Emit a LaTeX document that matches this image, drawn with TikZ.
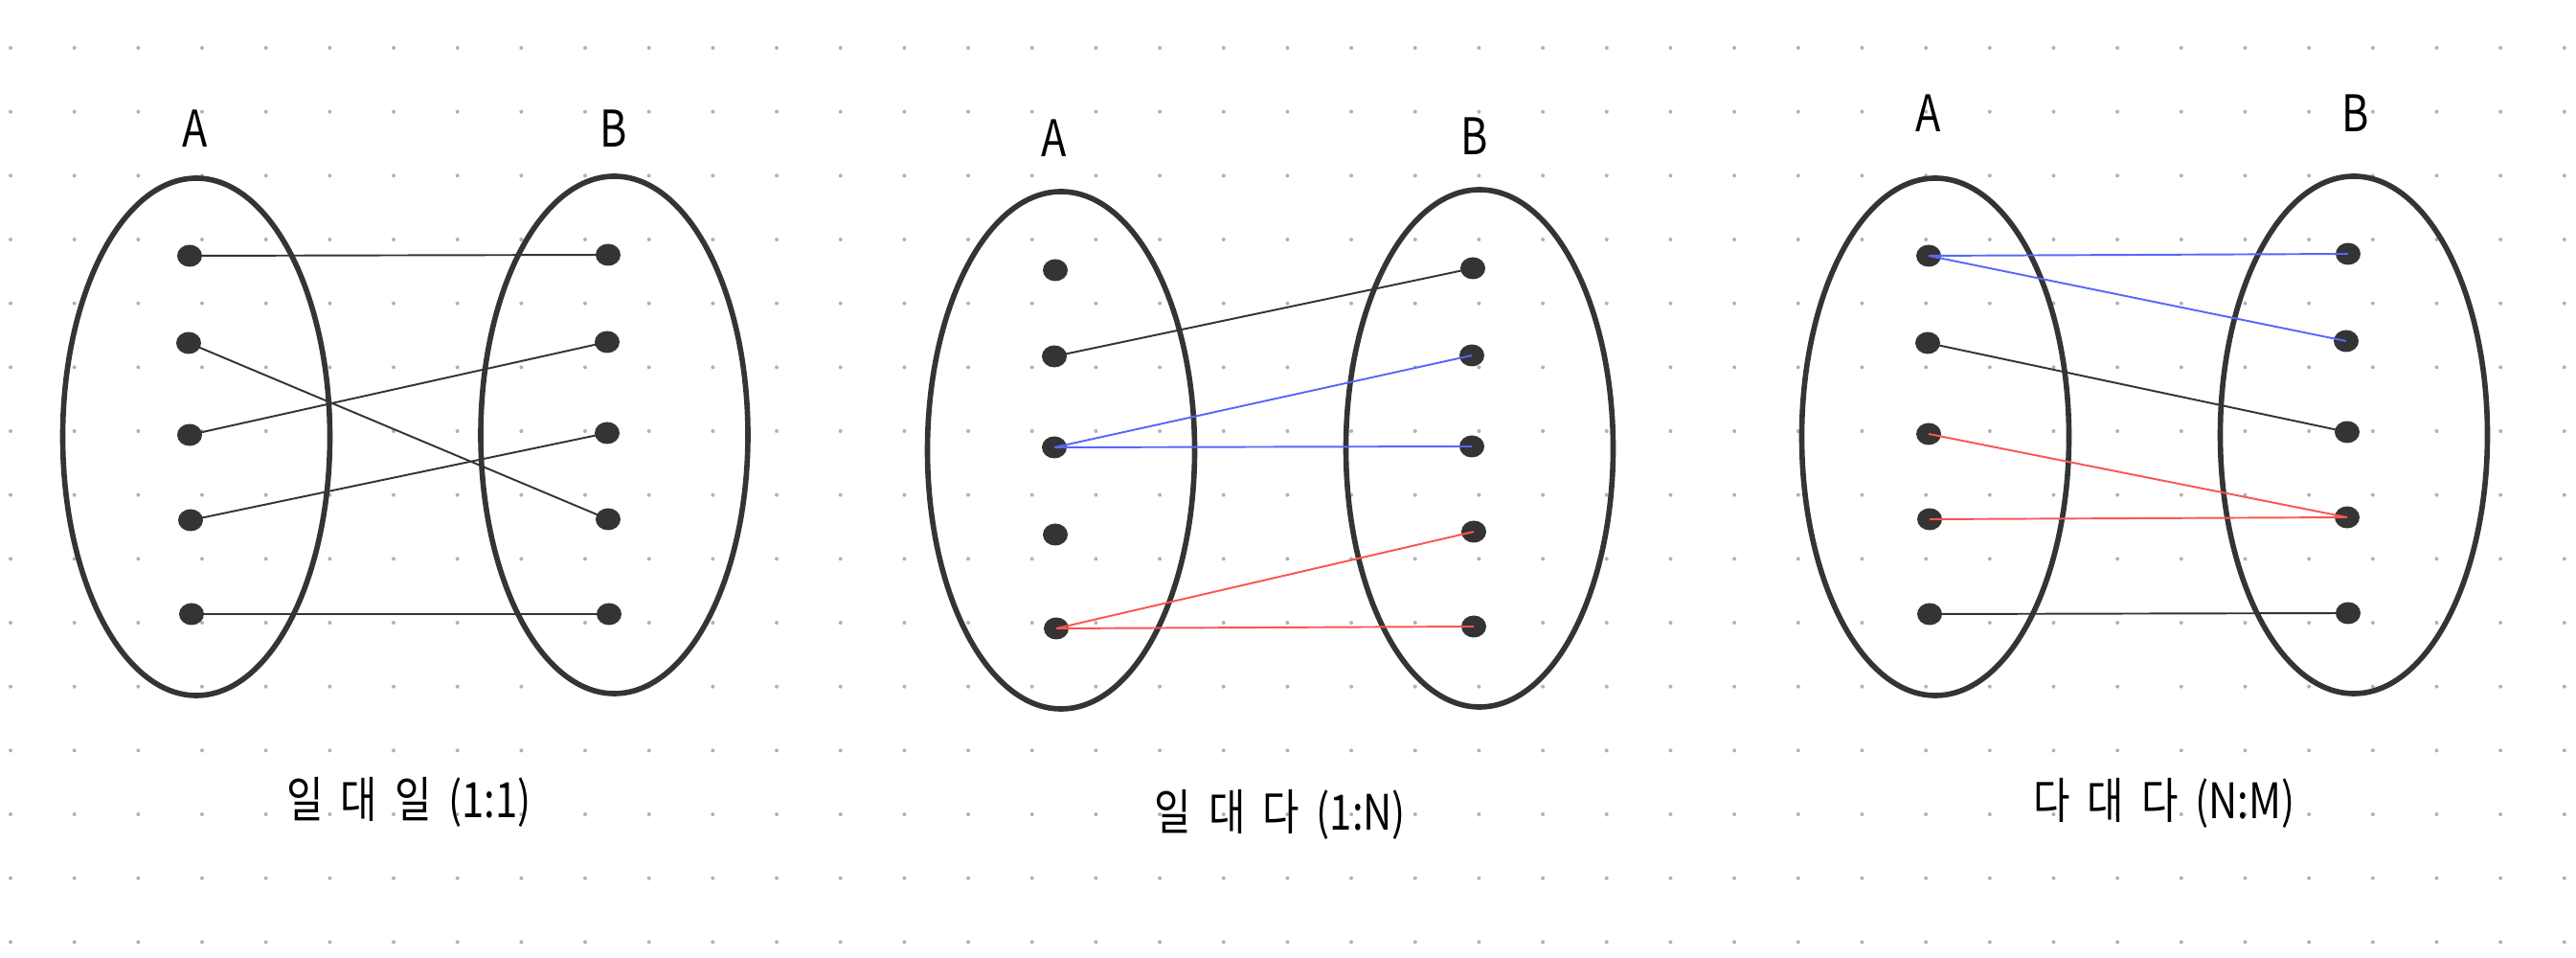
\documentclass[tikz,border=0pt]{standalone}
\usepackage{fontspec}
\setmainfont{Noto Sans CJK KR}
\newfontfamily\krfont[FakeStretch=0.82]{Noto Sans CJK KR}
\usetikzlibrary{shapes.geometric}
\definecolor{erdark}{RGB}{52,52,52}
\definecolor{erblue}{RGB}{88,104,250}
\definecolor{erred}{RGB}{250,86,86}
\definecolor{ergrid}{RGB}{178,178,178}
\tikzset{
  set/.style={draw=erdark, ellipse, line width=1.6pt, inner sep=0pt, outer sep=0pt,
              minimum width=2.79cm, minimum height=5.40cm},
  elem/.style={fill=erdark, ellipse, inner sep=0pt, minimum width=0.26cm, minimum height=0.23cm},
  lnk/.style={draw=erdark, line width=0.55pt},
  lab/.style={font=\krfont\fontsize{15pt}{17pt}\selectfont, text=black},
  title/.style={font=\krfont\fontsize{14.5pt}{17pt}\selectfont, text=black}
}

\begin{document}
\begin{tikzpicture}
  \fill[white] (0,0) rectangle (26.9,-10);
  % dotted paper
  \foreach \i in {0,...,40}
    \foreach \j in {0,...,14}
      \fill[ergrid] (0.11+0.6667*\i,-0.50-0.6667*\j) circle (0.02);

  % panel 1: one to one
  \node[set]  (sa1) at (2.05,-4.56)  {};
  \node[set]  (sb1) at (6.415,-4.54) {};
  \node[lab]  (la1) at (2.04,-1.34)  {A};
  \node[lab]  (lb1) at (6.41,-1.34)  {B};
  \node[elem] (a11) at (1.98,-2.67) {};
  \node[elem] (a12) at (1.97,-3.58) {};
  \node[elem] (a13) at (1.98,-4.54) {};
  \node[elem] (a14) at (1.99,-5.43) {};
  \node[elem] (a15) at (2.00,-6.41) {};
  \node[elem] (b11) at (6.35,-2.66) {};
  \node[elem] (b12) at (6.34,-3.57) {};
  \node[elem] (b13) at (6.34,-4.52) {};
  \node[elem] (b14) at (6.35,-5.42) {};
  \node[elem] (b15) at (6.36,-6.41) {};
  \node[title] (c1) at (4.27,-8.37) {일\,\ 대\,\ 일\,\ (1:1)};

  \draw[lnk] (a11.center) -- (b11.center);
  \draw[lnk] (a12.center) -- (b14.center);
  \draw[lnk] (a13.center) -- (b12.center);
  \draw[lnk] (a14.center) -- (b13.center);
  \draw[lnk] (a15.center) -- (b15.center);

  % panel 2: one to many
  \node[set]  (sa2) at (11.08,-4.70) {};
  \node[set]  (sb2) at (15.45,-4.68) {};
  \node[lab]  (la2) at (11.01,-1.44) {A};
  \node[lab]  (lb2) at (15.40,-1.42) {B};
  \node[elem] (a21) at (11.02,-2.82) {};
  \node[elem] (a22) at (11.01,-3.72) {};
  \node[elem] (a23) at (11.01,-4.67) {};
  \node[elem] (a24) at (11.02,-5.58) {};
  \node[elem] (a25) at (11.03,-6.56) {};
  \node[elem] (b21) at (15.38,-2.80) {};
  \node[elem] (b22) at (15.37,-3.71) {};
  \node[elem] (b23) at (15.37,-4.66) {};
  \node[elem] (b24) at (15.39,-5.55) {};
  \node[elem] (b25) at (15.39,-6.54) {};
  \node[title] (c2) at (13.37,-8.50) {일\,\ 대\,\ 다\,\ (1:N)};

  \draw[lnk] (a22.center) -- (b21.center);
  \draw[lnk, draw=erblue] (a23.center) -- (b22.center);
  \draw[lnk, draw=erblue] (a23.center) -- (b23.center);
  \draw[lnk, draw=erred] (a25.center) -- (b24.center);
  \draw[lnk, draw=erred] (a25.center) -- (b25.center);

  % panel 3: many to many
  \node[set]  (sa3) at (20.21,-4.56) {};
  \node[set]  (sb3) at (24.58,-4.54) {};
  \node[lab]  (la3) at (20.14,-1.18) {A};
  \node[lab]  (lb3) at (24.60,-1.18) {B};
  \node[elem] (a31) at (20.14,-2.67) {};
  \node[elem] (a32) at (20.13,-3.58) {};
  \node[elem] (a33) at (20.14,-4.53) {};
  \node[elem] (a34) at (20.15,-5.42) {};
  \node[elem] (a35) at (20.15,-6.41) {};
  \node[elem] (b31) at (24.52,-2.65) {};
  \node[elem] (b32) at (24.50,-3.56) {};
  \node[elem] (b33) at (24.51,-4.51) {};
  \node[elem] (b34) at (24.51,-5.40) {};
  \node[elem] (b35) at (24.52,-6.40) {};
  \node[title] (c3) at (22.60,-8.38) {다\,\ 대\,\ 다\,\ (N:M)};

  \draw[lnk, draw=erblue] (a31.center) -- (b31.center);
  \draw[lnk, draw=erblue] (a31.center) -- (b32.center);
  \draw[lnk] (a32.center) -- (b33.center);
  \draw[lnk, draw=erred] (a33.center) -- (b34.center);
  \draw[lnk, draw=erred] (a34.center) -- (b34.center);
  \draw[lnk] (a35.center) -- (b35.center);
\end{tikzpicture}
\end{document}
